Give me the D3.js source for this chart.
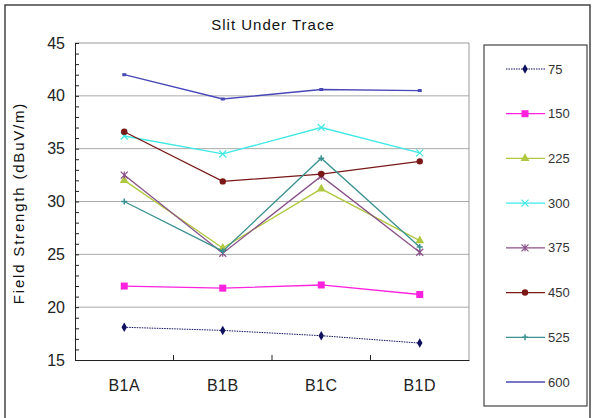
<!DOCTYPE html>
<html><head><meta charset="utf-8">
<script src="https://cdn.jsdelivr.net/npm/d3@7"></script>
<style>body{margin:0;background:#fff}svg{display:block}text{font-family:"Liberation Sans",Arial,sans-serif}</style>
</head><body><svg id="c" width="593" height="418"></svg>
<script>
const categories = ["B1A","B1B","B1C","B1D"];
const seriesNames = ["75","150","225","300","375","450","525","600"];
const s75  = [18.1, 17.8, 17.3, 16.6];
const s150 = [22.0, 21.8, 22.1, 21.2];
const s225 = [32.0, 25.6, 31.2, 26.3];
const s300 = [36.2, 34.5, 37.0, 34.6];
const s375 = [32.5, 25.1, 32.4, 25.2];
const s450 = [36.6, 31.9, 32.6, 33.8];
const s525 = [30.0, 25.3, 34.1, 25.7];
const s600 = [42.0, 39.7, 40.6, 40.5];
const yTicks = [15,20,25,30,35,40,45];

const seriesValues = [s75,s150,s225,s300,s375,s450,s525,s600];
const colors = ["#101060","#ff22dd","#b0c840","#40e8e8","#885088","#7a1818","#3a9090","#4848b8"];
const markers = ["diamond","square","triangle","x","star","circle","plus","none"];

const svg = d3.select("#c");
const L=75,R=469,T=43,B=360;
svg.append("rect").attr("x",5).attr("y",5).attr("width",585).attr("height",430).attr("fill","none").attr("stroke","#444").attr("stroke-width",1.5);

const x = d3.scaleBand().domain(categories).range([L,R]);
const y = d3.scaleLinear().domain([15,45]).range([B,T]);

svg.append("g").selectAll("line").data(yTicks.filter(v=>v>15&&v<45)).join("line")
 .attr("x1",L).attr("x2",R).attr("y1",d=>y(d)).attr("y2",d=>y(d)).attr("stroke","#aaa").attr("stroke-width",1);
svg.append("path").attr("d",`M${L},${T}H${R}V${B}`).attr("fill","none").attr("stroke","#999").attr("stroke-width",1);

const yAxis = svg.append("g").attr("transform",`translate(${L},0)`)
 .call(d3.axisLeft(y).tickValues(d3.range(15,46,1)).tickSize(-4).tickFormat(d=>yTicks.includes(d)?d:""));
yAxis.select(".domain").attr("stroke","#222");
yAxis.selectAll(".tick line").attr("stroke","#222");
yAxis.selectAll("text").attr("x",-10).attr("font-size",16).attr("fill","#222");
const xAxis = svg.append("g").attr("transform",`translate(0,${B})`)
 .call(d3.axisBottom(x).tickSize(0).tickPadding(20));
xAxis.select(".domain").attr("stroke","#222");
xAxis.selectAll("text").attr("font-size",16).attr("fill","#222").attr("dy","0.71em").attr("letter-spacing","0.5");
svg.append("g").selectAll("line").data(categories.slice(1)).join("line")
 .attr("x1",d=>x(d)).attr("x2",d=>x(d)).attr("y1",B).attr("y2",B-5).attr("stroke","#222");

const cx = d=>x(d)+x.bandwidth()/2;
const line = d3.line().x((d,i)=>cx(categories[i])).y(d=>y(d));

function marker(g, type, color, px, py){
  if(type==="diamond") g.append("path").attr("d",d3.symbol(d3.symbolDiamond,26)()).attr("transform",`translate(${px},${py})`).attr("fill",color);
  else if(type==="square") g.append("rect").attr("x",px-3.5).attr("y",py-3.5).attr("width",7).attr("height",7).attr("fill",color);
  else if(type==="triangle") g.append("path").attr("d",d3.symbol(d3.symbolTriangle,34)()).attr("transform",`translate(${px},${py})`).attr("fill",color);
  else if(type==="circle") g.append("circle").attr("cx",px).attr("cy",py).attr("r",3.2).attr("fill",color);
  else if(type==="x") g.append("path").attr("d",d3.symbol(d3.symbolX,34)()).attr("transform",`translate(${px},${py})`).attr("stroke",color).attr("fill","none").attr("stroke-width",1.2);
  else if(type==="star") g.append("path").attr("d",`M${px-3.5},${py-3.5}L${px+3.5},${py+3.5}M${px+3.5},${py-3.5}L${px-3.5},${py+3.5}M${px},${py-3.5}V${py+3.5}`).attr("stroke",color).attr("fill","none").attr("stroke-width",1.2);
  else if(type==="plus") g.append("path").attr("d",`M${px-3},${py}H${px+3}M${px},${py-3}V${py+3}`).attr("stroke",color).attr("fill","none").attr("stroke-width",1.5);
  else g.append("rect").attr("x",px-2).attr("y",py-1.5).attr("width",4).attr("height",3).attr("fill",color);
}

seriesValues.forEach((vals,k)=>{
  const g = svg.append("g");
  g.append("path").datum(vals).attr("d",line).attr("fill","none").attr("stroke",colors[k])
   .attr("stroke-width",k===0?1:1.3).attr("stroke-dasharray",k===0?"1.5,1":null);
  vals.forEach((v,i)=>marker(g,markers[k],colors[k],cx(categories[i]),y(v)));
});

svg.append("text").attr("x",273).attr("y",30).attr("text-anchor","middle").attr("font-size",15).attr("fill","#111").attr("letter-spacing","1").text("Slit Under Trace");
svg.append("text").attr("transform","translate(24,203) rotate(-90)").attr("text-anchor","middle").attr("font-size",15).attr("fill","#111").attr("letter-spacing","1.8").text("Field Strength (dBuV/m)");

svg.append("rect").attr("x",484).attr("y",45).attr("width",103).attr("height",361).attr("fill","none").attr("stroke","#444").attr("stroke-width",1.2);
const ly = d3.scalePoint().domain(seriesNames).range([69,382]);
seriesNames.forEach((n,k)=>{
  const g = svg.append("g");
  const yy = ly(n);
  g.append("line").attr("x1",506).attr("x2",545).attr("y1",yy).attr("y2",yy).attr("stroke",colors[k]).attr("stroke-width",k===0?1:1.3).attr("stroke-dasharray",k===0?"1.5,1":null);
  if(markers[k]!=="none") marker(g,markers[k],colors[k],525,yy);
  g.append("text").attr("x",548).attr("y",yy).attr("dy","0.35em").attr("font-size",13).attr("fill","#333").text(n);
});
</script></body></html>
